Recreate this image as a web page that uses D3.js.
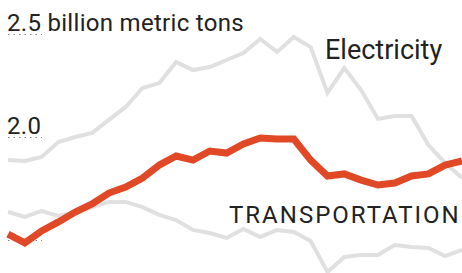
<!DOCTYPE html>
<html lang="en">
<head>
<meta charset="UTF-8">
<title>CO2 emissions by sector</title>
<script src="https://cdn.jsdelivr.net/npm/d3@7"></script>
<style>
    body { margin: 0; padding: 0; background: #fff; }
    svg { display: block; font-family: Roboto, "Liberation Sans", sans-serif; }
    .lbl { fill: #222; }
</style>
</head>
<body>
<svg id="chart" width="462" height="273"></svg>
<script>
    const width = 462, height = 273;

    // years 1990-2017, billion metric tons CO2
    const years = d3.range(1990, 2018);
    const electricity = [1.883, 1.879, 1.898, 1.971, 1.995, 2.015, 2.078, 2.141, 2.233, 2.257,
        2.359, 2.320, 2.335, 2.369, 2.403, 2.471, 2.408, 2.481, 2.432, 2.209,
        2.330, 2.223, 2.083, 2.097, 2.097, 1.956, 1.869, 1.796];
    const transportation = [1.524, 1.481, 1.539, 1.583, 1.631, 1.670, 1.723, 1.752, 1.796, 1.859,
        1.903, 1.883, 1.927, 1.917, 1.961, 1.990, 1.985, 1.985, 1.883, 1.806,
        1.816, 1.786, 1.762, 1.772, 1.806, 1.816, 1.859, 1.879];
    const industry = [1.631, 1.607, 1.636, 1.612, 1.631, 1.655, 1.680, 1.680, 1.655, 1.617,
        1.592, 1.544, 1.529, 1.505, 1.549, 1.510, 1.544, 1.534, 1.490, 1.340,
        1.413, 1.422, 1.422, 1.471, 1.461, 1.456, 1.417, 1.447];

    const ticks = [1.5, 2.0, 2.5];
    const tickLabels = { 2.0: "2.0", 2.5: "2.5 billion metric tons" };

    const svg = d3.select("#chart");

    const x = d3.scaleLinear().domain([1990, 2017]).range([8, 462]);
    const y = d3.scaleLinear().domain([1.5, 2.5]).range([239, 33]);

    // short dotted tick marks under the labels
    svg.selectAll(".tick").data(ticks).enter().append("line")
        .attr("x1", 8).attr("x2", 42)
        .attr("y1", d => y(d) + 1.5).attr("y2", d => y(d) + 1.5)
        .attr("stroke", "#888").attr("stroke-width", 1.2)
        .attr("stroke-dasharray", "1.5,4");

    svg.selectAll(".ylab").data(ticks.filter(t => tickLabels[t])).enter().append("text")
        .attr("class", "lbl")
        .attr("x", 7).attr("y", d => y(d) - 2)
        .style("font-size", "24px")
        .style("letter-spacing", "0.3px")
        .text(d => tickLabels[d]);

    const line = d3.line()
        .x((d, i) => x(years[i]))
        .y(d => y(d));

    [electricity, industry].forEach(series => {
        svg.append("path")
            .datum(series)
            .attr("fill", "none")
            .attr("stroke", "#e0e0e0")
            .attr("stroke-width", 4)
            .attr("d", line);
    });

    svg.append("path")
        .datum(transportation)
        .attr("fill", "none")
        .attr("stroke", "#e04826")
        .attr("stroke-width", 7)
        .attr("d", line);

    svg.append("text").attr("class", "lbl")
        .attr("x", 325).attr("y", 59)
        .style("font-size", "27px")
        .text("Electricity");

    svg.append("text").attr("class", "lbl")
        .attr("x", 229).attr("y", 223)
        .style("font-size", "24px")
        .style("letter-spacing", "2px")
        .text("TRANSPORTATION");
</script>
</body>
</html>
